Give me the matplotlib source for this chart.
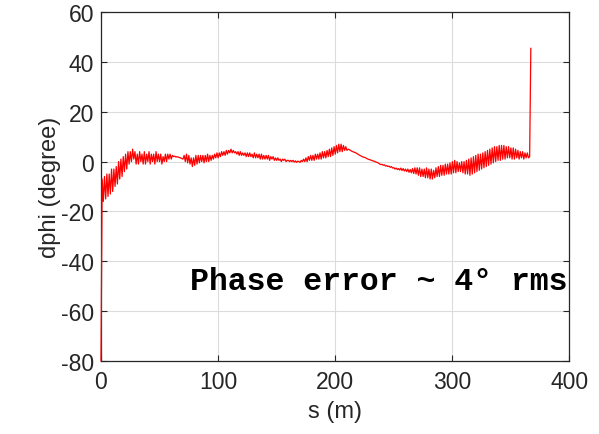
import matplotlib
matplotlib.use("Agg")
import matplotlib.pyplot as plt
import numpy as np

# phase error along the line, one sample per metre (s = 0 ... 367 m)
dphi_deg = [
    -80, -7, -16, -6, -15, -5, -14, -5, -13, -3,
    -12, -3, -10, -2, -9, 0, -7, 1, -6, 2,
    -4, 3, -3, 4, -1, 4, 0, 5, 1, 4,
    -1, 3, -1, 4, 0, 3, -1, 4, -1, 3,
    0, 4, -1, 3, 0, 3, -1, 4, 0, 3,
    0, 3, -1, 2, 0, 3, 0, 3, 1, 3,
    1, 2.5, 2, 2.2, 1.8, 2, 1.8, 1.6, 1.5, 1.2,
    1, 2.5, 0, 3, -0.5, 2.5, -1, 1.5, -2, 1.5,
    -1.5, 2.5, -1, 2.5, -0.5, 2.5, 0, 2.5, -0.5, 2.5,
    0, 3, 0, 2.5, 0.5, 2.5, 1, 3, 1.5, 3.5,
    1.5, 3.5, 2, 4, 2.5, 4, 2.5, 4.5, 3, 4.5,
    3.5, 5, 3.5, 4.5, 3.5, 4, 3, 4, 2.5, 4,
    2.5, 3.5, 2.5, 3.5, 2, 3.5, 2, 3.5, 2, 3,
    1.5, 3.5, 1.5, 3, 1.5, 3, 1, 3, 1, 2.5,
    1, 2.5, 1, 2.5, 0.5, 2, 1, 2, 0.5, 1.5,
    0.5, 1.5, 0.5, 1, 0, 1, 0.5, 1, 0, 0.5,
    0.5, 0, 0.5, 0, 0.5, -0.2, 0.3, -0.3, 0.2, 0,
    -0.3, 0.5, 0, 1, 0, 1.5, 0, 2, 0.5, 2.5,
    0.5, 2.5, 0.5, 3, 1, 3, 1, 3.5, 1, 4,
    1.5, 4, 1.5, 4.5, 2, 5, 2, 5.5, 2.5, 6,
    3, 6.5, 3.5, 7, 4, 7, 4, 6.5, 4.5, 6,
    4.5, 5, 4.8, 4.5, 4.2, 4, 3.8, 3.6, 3.4, 3.1,
    2.8, 2.5, 2.3, 2, 1.8, 1.7, 1.5, 1.2, 1, 0.8,
    0.7, 0.5, 0.3, 0.2, 0, -0.2, -0.4, -0.6, -1, -1.2,
    -1.1, -1.5, -1.3, -1.8, -1.6, -2, -1.8, -2.3, -2, -2.6,
    -2.4, -3, -2.6, -3.2, -2.8, -3.4, -2.6, -3.6, -2.8, -3.8,
    -3, -4, -3, -4.3, -3.2, -4.5, -2.8, -4.8, -2.5, -5,
    -2.5, -5.5, -2.5, -6, -3, -6, -3, -6.5, -2.5, -6.5,
    -3, -7, -3, -7, -3.5, -6.5, -2.5, -6, -2, -6,
    -1.5, -5.5, -1.5, -5.5, -1, -5, -1, -5, -0.5, -5,
    0, -4.5, 0.5, -4.5, 0, -4, -0.5, -4, 0, -4.5,
    0, -5, 0.5, -5, 1, -5.5, 1.5, -5, 2, -4.5,
    2.5, -4, 3, -3.5, 3, -3, 3.5, -2.5, 4, -2,
    4.5, -1.5, 5, -1, 5.5, -0.5, 6, 0, 6, 0.5,
    6.5, 0.5, 6.5, 1, 6.5, 1, 6, 1.5, 6, 1.5,
    5.5, 1, 5.5, 1, 5, 1.5, 4.5, 1, 4, 1.5,
    4, 1, 3.5, 1.5, 3.5, 1.5, 2, 45.5,
]
s_m = np.arange(len(dphi_deg))

x_ticks = [0, 100, 200, 300, 400]
y_ticks = [-80, -60, -40, -20, 0, 20, 40, 60]
note = "Phase error ~ 4\u00b0 rms"

plt.rcParams["font.family"] = ["Liberation Sans", "DejaVu Sans"]
plt.rcParams["axes.unicode_minus"] = False
dark = "#262626"

fig = plt.figure(figsize=(5.99, 4.35), dpi=100)
ax = fig.add_axes([0.1686, 0.1685, 0.7821, 0.801])

ax.plot(s_m, dphi_deg, color="red", lw=0.9, zorder=3, clip_on=False)

ax.set_xlim(0, 400)
ax.set_ylim(-80, 60)
ax.set_xticks(x_ticks)
ax.set_yticks(y_ticks)
ax.grid(True, color="#dcdcdc", lw=0.8)
ax.set_axisbelow(True)

for sp in ax.spines.values():
    sp.set_color(dark)
    sp.set_linewidth(0.9)
ax.tick_params(direction="in", length=4, width=0.8, colors=dark,
               labelsize=16.5, top=True, right=True)
ax.tick_params(axis="x", pad=7)
ax.tick_params(axis="y", pad=5)

ax.set_xlabel("s (m)", fontsize=17, color=dark, labelpad=5)
ax.set_ylabel("dphi (degree)", fontsize=17, color=dark, labelpad=0)

ax.text(76, -51.2, note, family=["Liberation Mono", "DejaVu Sans Mono"],
        fontweight="bold", fontsize=22.7, color="black",
        ha="left", va="baseline", clip_on=False, zorder=4)

fig.savefig("out.png", dpi=100)
